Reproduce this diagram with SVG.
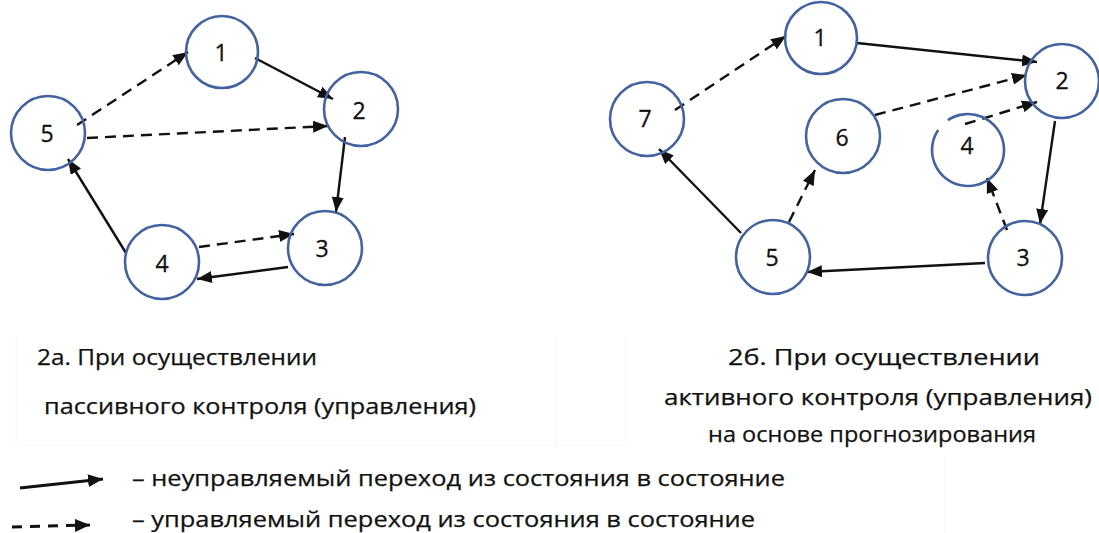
<svg xmlns="http://www.w3.org/2000/svg" width="1099" height="533" viewBox="0 0 1099 533">
<style>
.node{fill:none;stroke:#4262a0;stroke-width:2.6}
.lbl{font-family:"Open Sans","Liberation Sans",sans-serif;font-size:23px;fill:#111;stroke:#111;stroke-width:0.3;text-anchor:middle;dominant-baseline:central}
.txt{font-family:"Open Sans","Liberation Sans",sans-serif;font-size:22px;fill:#111;stroke:#111;stroke-width:0.25}
.solid{fill:none;stroke:#111;stroke-width:2.4;marker-end:url(#ah)}
.dash{fill:none;stroke:#111;stroke-width:2.4;stroke-dasharray:11 7;marker-end:url(#ah)}
.faint{fill:none;stroke:#f6f6f6;stroke-width:1}
</style>
<defs>
<marker id="ah" markerUnits="userSpaceOnUse" markerWidth="16" markerHeight="12" refX="15" refY="6" orient="auto">
<path d="M0,0 L15,6 L0,12 z" fill="#111"/>
</marker>
<marker id="ahL" markerUnits="userSpaceOnUse" markerWidth="16" markerHeight="13" refX="15" refY="6.5" orient="auto">
<path d="M0,0 L15,6.5 L0,13 z" fill="#111"/>
</marker>
</defs>
<rect width="1099" height="533" fill="#fff"/>
<g id="faint-frames">
<path class="faint" d="M16,335 V445 H626 M557,335 V445 M626,335 V445 M945,460 V533"/>
</g>
<g id="connectors">
<line class="solid" x1="255" y1="58" x2="333" y2="99"/>
<line class="dash" x1="77" y1="125" x2="188" y2="52"/>
<line class="dash" x1="87" y1="138" x2="328" y2="126"/>
<line class="solid" x1="345" y1="137" x2="336" y2="212"/>
<line class="dash" x1="199" y1="247" x2="294" y2="234"/>
<line class="solid" x1="288" y1="267" x2="197" y2="279"/>
<line class="solid" x1="126" y1="253" x2="68" y2="159"/>
<line class="dash" x1="675" y1="110" x2="786" y2="36"/>
<line class="solid" x1="857" y1="43" x2="1037" y2="62"/>
<line class="dash" x1="875" y1="115" x2="1027" y2="75"/>
<line class="dash" x1="965" y1="124" x2="1037" y2="102"/>
<line class="solid" x1="1055" y1="121" x2="1040" y2="224"/>
<line class="dash" x1="1007" y1="230" x2="987" y2="178"/>
<line class="dash" x1="789" y1="222" x2="815" y2="170"/>
<line class="solid" x1="741" y1="233" x2="659" y2="149"/>
<line class="solid" x1="985" y1="263" x2="807" y2="272"/>
</g>
<g id="a1"><circle class="node" cx="222" cy="52" r="36"/><text class="lbl" x="221" y="52">1</text></g>
<g id="a2"><circle class="node" cx="361" cy="109" r="37"/><text class="lbl" x="359" y="110">2</text></g>
<g id="a3"><circle class="node" cx="325" cy="248" r="37"/><text class="lbl" x="322" y="248">3</text></g>
<g id="a4"><circle class="node" cx="162" cy="262" r="37"/><text class="lbl" x="162" y="263">4</text></g>
<g id="a5"><circle class="node" cx="48" cy="133" r="37"/><text class="lbl" x="47" y="133">5</text></g>
<g id="b1"><circle class="node" cx="821" cy="38" r="36"/><text class="lbl" x="820" y="37">1</text></g>
<g id="b2"><circle class="node" cx="1062" cy="81" r="37"/><text class="lbl" x="1062" y="80">2</text></g>
<g id="b3"><circle class="node" cx="1025" cy="258" r="37"/><text class="lbl" x="1023" y="257">3</text></g>
<g id="b4"><path class="node" d="M947.9,120.2 A36,36 0 1 1 938.2,129.9"/><text class="lbl" x="967" y="145">4</text></g>
<g id="b5"><circle class="node" cx="773" cy="257" r="37"/><text class="lbl" x="772" y="257">5</text></g>
<g id="b6"><circle class="node" cx="843" cy="136" r="37"/><text class="lbl" x="842" y="137">6</text></g>
<g id="b7"><circle class="node" cx="647" cy="119" r="37"/><text class="lbl" x="645" y="118">7</text></g>
<g id="captions">
<text class="txt" x="37" y="365" textLength="280" lengthAdjust="spacingAndGlyphs">2а. При осуществлении</text>
<text class="txt" x="44" y="414" textLength="432" lengthAdjust="spacingAndGlyphs">пассивного контроля (управления)</text>
<text class="txt" x="884" y="365" text-anchor="middle" textLength="312" lengthAdjust="spacingAndGlyphs">2б. При осуществлении</text>
<text class="txt" x="878" y="405" text-anchor="middle" textLength="428" lengthAdjust="spacingAndGlyphs">активного контроля (управления)</text>
<text class="txt" x="872" y="442" text-anchor="middle" textLength="328" lengthAdjust="spacingAndGlyphs">на основе прогнозирования</text>
</g>
<g id="legend">
<line x1="20" y1="488" x2="103" y2="479" stroke="#111" stroke-width="3" marker-end="url(#ahL)"/>
<line x1="12" y1="527" x2="90" y2="525" stroke="#111" stroke-width="3" stroke-dasharray="10 8" marker-end="url(#ahL)"/>
<text class="txt" x="132" y="486" textLength="653" lengthAdjust="spacingAndGlyphs">– неуправляемый переход из состояния в состояние</text>
<text class="txt" x="132" y="527" textLength="623" lengthAdjust="spacingAndGlyphs">– управляемый переход из состояния в состояние</text>
</g>
</svg>
